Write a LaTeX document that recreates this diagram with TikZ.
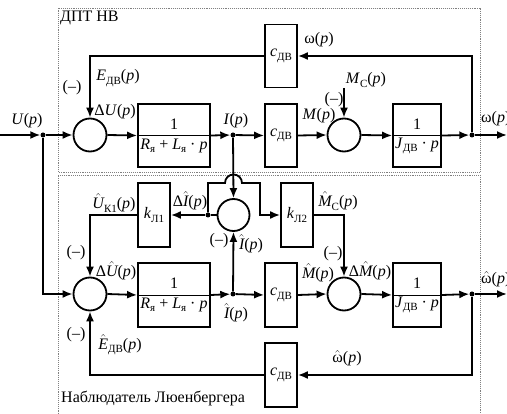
\documentclass[tikz,border=0pt]{standalone}
\usepackage{fontspec}
\setmainfont{Liberation Serif}
\usetikzlibrary{arrows.meta}
\newcommand{\vi}[1]{\textit{#1}}
\newcommand{\lsub}[1]{\raisebox{-0.45ex}{\fontsize{11}{11}\selectfont #1}}
\newcommand{\ofp}{(\textit{p})}
\newcommand{\hatx}[1]{\ensuremath{\hat{\mbox{#1}}}}
\tikzset{
 ln/.style={line width=1.8pt},
 arr/.style={line width=1.8pt, -{Latex[length=10pt,width=8pt]}},
 blk/.style={draw, line width=1.8pt, minimum width=32pt, minimum height=63pt, inner sep=0pt},
 sumc/.style={draw, circle, line width=1.8pt, minimum size=33pt, inner sep=0pt},
 dotn/.style={circle, fill, minimum size=5pt, inner sep=0pt},
 lbl/.style={inner sep=0pt},
 frame/.style={densely dotted, gray, line width=0.9pt},
}
\begin{document}
\begin{tikzpicture}[x=1pt,y=-1pt,font=\fontsize{16}{18}\selectfont]
\useasboundingbox (0,0) rectangle (507,414);
% frames
\draw[frame] (58,172) -- (58,8) -- (480,8) -- (480,172) -- cycle;
\draw[frame] (58,420) -- (58,175) -- (480,175) -- (480,420);
\node[lbl,anchor=west] (t1) at (60,18) {ДПТ НВ};
\node[lbl,anchor=west] (t2) at (61,398) {Наблюдатель Люенбергера};
% upper row
\coordinate (Uin) at (0,135);
\node[dotn] (Ud) at (43,135) {};
\node[sumc] (S1) at (90,135) {};
\node[blk,minimum width=72pt] (B1) at (174,135.5) {};
\node[dotn] (Id) at (233,135) {};
\node[blk] (C1) at (281,135.5) {\vi{c}\lsub{ДВ}};
\node[blk] (Cf) at (281,56) {\vi{c}\lsub{ДВ}};
\node[sumc] (S2) at (344,135) {};
\node[blk,minimum width=48pt] (J1) at (417,135.5) {};
\node[dotn] (Wd) at (472,135) {};
\coordinate (Wout) at (507,135);
\coordinate (Mc) at (344,88);
\draw[line width=0.8pt] (B1.west) -- (B1.east);
\draw[line width=0.8pt] (J1.west) -- (J1.east);
\node[lbl] (n1) at (174,124) {1};
\node[lbl] (d1) at (174,146) {\vi{R}\lsub{я} + \vi{L}\lsub{я} · \vi{p}};
\node[lbl] (n2) at (417,124) {1};
\node[lbl] (d2) at (417,146) {\vi{J}\lsub{ДВ} · \vi{p}};
% lower row
\node[sumc] (S4) at (90,294) {};
\node[blk,minimum width=72pt,minimum height=64pt] (B2) at (174,295) {};
\node[dotn] (Ihd) at (233,294) {};
\node[blk,minimum height=64pt] (C2) at (281,295) {\vi{c}\lsub{ДВ}};
\node[sumc] (S5) at (344,294) {};
\node[blk,minimum width=48pt,minimum height=64pt] (J2) at (417,295) {};
\node[dotn] (Whd) at (472,294) {};
\coordinate (Whout) at (507,294);
\node[blk,minimum height=64pt] (Cf2) at (281,375) {\vi{c}\lsub{ДВ}};
\draw[line width=0.8pt] (B2.west) -- (B2.east);
\draw[line width=0.8pt] (J2.west) -- (J2.east);
\node[lbl] (n3) at (174,283) {1};
\node[lbl] (d3) at (174,305) {\vi{R}\lsub{я} + \vi{L}\lsub{я} · \vi{p}};
\node[lbl] (n4) at (417,283) {1};
\node[lbl] (d4) at (417,305) {\vi{J}\lsub{ДВ} · \vi{p}};
% observer middle
\node[sumc,minimum size=32pt] (S3) at (233.5,215) {};
\node[dotn] (Dd) at (208,215) {};
\node[blk,minimum height=64pt] (K1) at (154,215) {\vi{k}\lsub{Л1}};
\node[blk,minimum height=64pt] (K2) at (297,215) {\vi{k}\lsub{Л2}};
\coordinate (ja) at (225,183);
\coordinate (jb) at (260,183);
% connectors upper
\draw[arr] (Uin) -- (Ud);
\draw[arr] (Ud) -- (S1.west);
\draw[arr] (S1.east) -- (B1.west);
\draw[arr] (B1.east) -- (Id);
\draw[arr] (Id) -- (C1.west);
\draw[arr] (C1.east) -- (S2.west);
\draw[arr] (S2.east) -- (J1.west);
\draw[arr] (J1.east) -- (Wd);
\draw[arr] (Wd) -- (Wout);
\draw[arr] (Wd) |- (Cf.east);
\draw[arr] (Cf.west) -| (S1.north);
\draw[arr] (Mc) -- (S2.north);
\draw[arr] (Id) -- (S3.north);
% connectors lower
\draw[arr] (Ud) |- (S4.west);
\draw[arr] (S4.east) -- (B2.west);
\draw[arr] (B2.east) -- (Ihd);
\draw[arr] (Ihd) -- (C2.west);
\draw[arr] (Ihd) -- (S3.south);
\draw[arr] (C2.east) -- (S5.west);
\draw[arr] (S5.east) -- (J2.west);
\draw[arr] (J2.east) -- (Whd);
\draw[arr] (Whd) -- (Whout);
\draw[arr] (Whd) |- (Cf2.east);
\draw[arr] (Cf2.west) -| (S4.south);
\draw[ln] (S3.west) -- (Dd);
\draw[arr] (Dd) -- (K1.east);
\draw[arr] (K1.west) -| (S4.north);
\draw[arr] (Dd) |- (ja) arc[start angle=180,end angle=0,radius=8.5pt] -- (jb) |- (K2.west);
\draw[arr] (K2.east) -| (S5.north);
% labels
\node[lbl] (lU) at (27,121) {\vi{U}\ofp};
\node[lbl] (lm1) at (72,88) {(–)};
\node[lbl] (lE) at (118,78) {\vi{E}\lsub{ДВ}\ofp};
\node[lbl] (ldU) at (115,112) {Δ\vi{U}\ofp};
\node[lbl] (lI) at (236,121) {\vi{I}\ofp};
\node[lbl] (lw) at (319,40) {ω\ofp};
\node[lbl] (lMc) at (366,80) {\vi{M}\lsub{C}\ofp};
\node[lbl] (lm2) at (334,100) {(–)};
\node[lbl] (lM) at (319,116) {\vi{M}\ofp};
\node[lbl,anchor=west] (lwo) at (481,119) {ω\ofp};
\node[lbl] (ldI) at (190,201) {Δ\hatx{\itshape I}\ofp};
\node[lbl] (lUk) at (114,203) {\hatx{\itshape U}\lsub{К1}\ofp};
\node[lbl] (lm3) at (76,253) {(–)};
\node[lbl] (ldUh) at (116,271) {Δ\hatx{\itshape U}\ofp};
\node[lbl] (lm4) at (219,241) {(–)};
\node[lbl] (lIh1) at (251,244) {\hatx{\itshape I}\ofp};
\node[lbl] (lMch) at (338,201) {\hatx{\itshape M}\lsub{C}\ofp};
\node[lbl] (lm5) at (333,254) {(–)};
\node[lbl] (ldM) at (370,271) {Δ\hatx{\itshape M}\ofp};
\node[lbl] (lMh) at (318,273) {\hatx{\itshape M}\ofp};
\node[lbl] (lIh2) at (236,313) {\hatx{\itshape I}\ofp};
\node[lbl,anchor=west] (lwho) at (481,279) {\hatx{ω}\ofp};
\node[lbl] (lwh) at (347,358) {\hatx{ω}\ofp};
\node[lbl] (lEh) at (120,345) {\hatx{\itshape E}\lsub{ДВ}\ofp};
\node[lbl] (lm6) at (76,335) {(–)};
\end{tikzpicture}
\end{document}
